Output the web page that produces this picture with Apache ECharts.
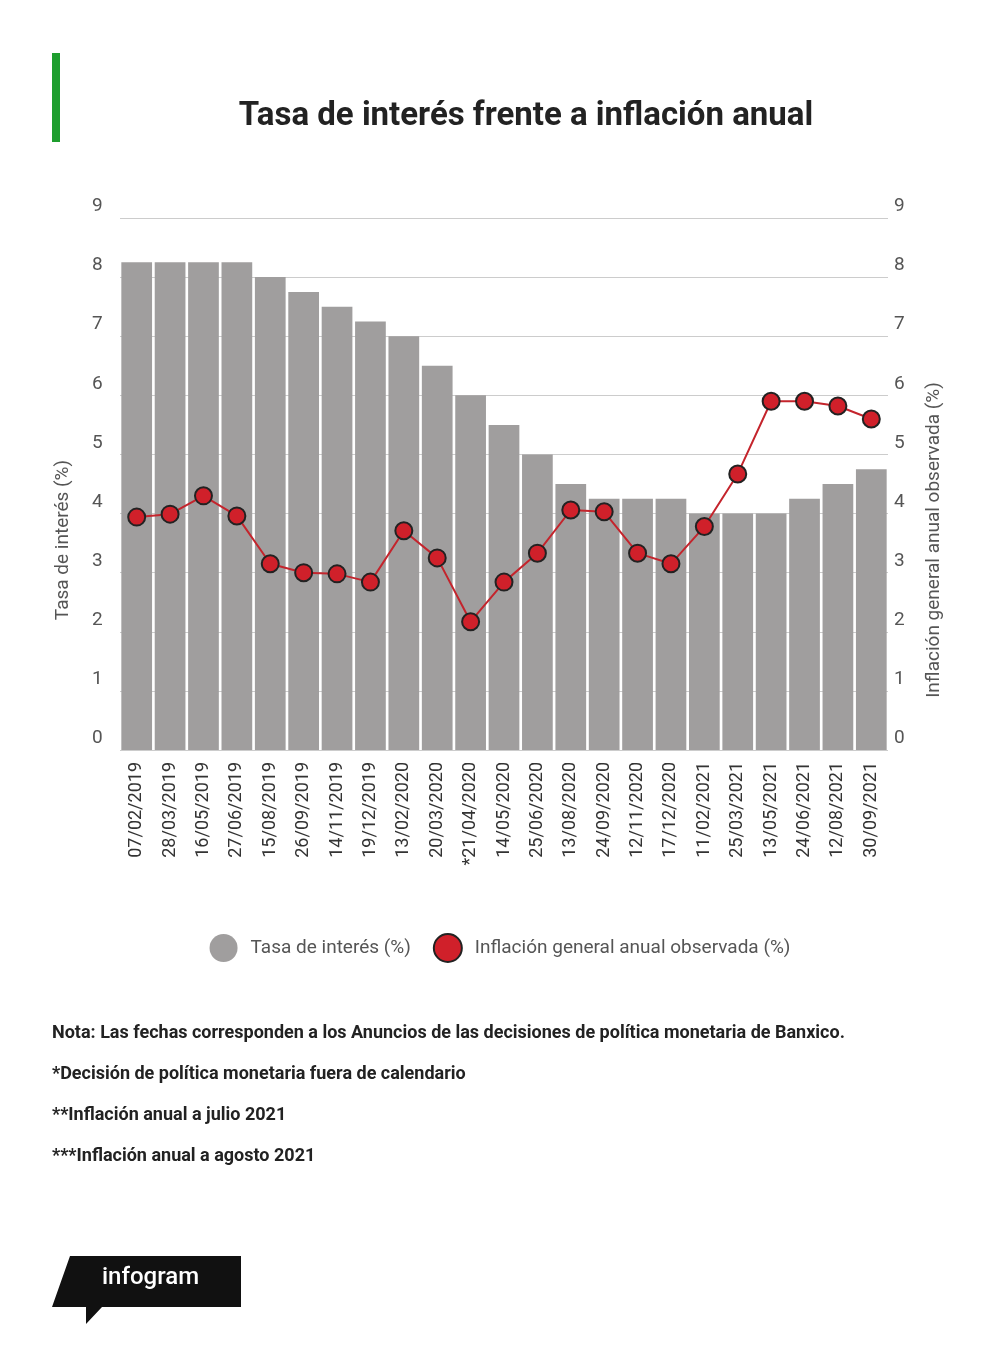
<!DOCTYPE html>
<html><head><meta charset="utf-8">
<script src="https://cdn.jsdelivr.net/npm/echarts@6/dist/echarts.min.js"></script>
<style>html,body{margin:0;padding:0;background:#fff}#c{width:1000px;height:1351px}</style>
</head><body><div id="c"></div>
<script>
const categories=["07/02/2019","28/03/2019","16/05/2019","27/06/2019","15/08/2019","26/09/2019","14/11/2019","19/12/2019","13/02/2020","20/03/2020","*21/04/2020","14/05/2020","25/06/2020","13/08/2020","24/09/2020","12/11/2020","17/12/2020","11/02/2021","25/03/2021","13/05/2021","24/06/2021","12/08/2021","30/09/2021"];
const tasa=[8.25,8.25,8.25,8.25,8.0,7.75,7.5,7.25,7.0,6.5,6.0,5.5,5.0,4.5,4.25,4.25,4.25,4.0,4.0,4.0,4.25,4.5,4.75];
const inflacion=[3.94,3.99,4.30,3.96,3.15,3.0,2.98,2.84,3.71,3.25,2.17,2.84,3.33,4.06,4.03,3.33,3.15,3.78,4.67,5.9,5.9,5.82,5.6];
const notes=["Nota: Las fechas corresponden a los Anuncios de las decisiones de política monetaria de Banxico.","*Decisión de política monetaria fuera de calendario","**Inflación anual a julio 2021","***Inflación anual a agosto 2021"];
const F="Roboto";
const chart=echarts.init(document.getElementById('c'));
const yax=(pos)=>({type:'value',min:0,max:9,interval:1,position:pos,
 axisLabel:{fontFamily:F,fontSize:19,color:'#555',margin:pos==='left'?28:6,verticalAlign:'bottom',padding:[0,0,2,0],align:'left'},
 splitLine:{show:pos==='left',lineStyle:{color:'#ccc'}},axisLine:{show:false},axisTick:{show:false}});
chart.setOption({
 title:{text:'Tasa de interés frente a inflación anual',left:521,top:95,textAlign:'center',textStyle:{fontFamily:F,fontSize:33,fontWeight:'bold',color:'#222'}},
 grid:{left:120,right:112,top:218,bottom:601},
 legend:{top:928,left:'center',itemGap:22,icon:'circle',itemWidth:28,itemHeight:28,textStyle:{fontFamily:F,fontSize:19,color:'#555',padding:[0,0,0,8]},data:['Tasa de interés (%)','Inflación general anual observada (%)']},
 xAxis:{type:'category',data:categories,axisLine:{show:false},axisTick:{show:false},axisLabel:{rotate:90,interval:0,fontFamily:F,fontSize:18,color:'#333',margin:12}},
 yAxis:[yax('left'),yax('right')],
 series:[
  {name:'Tasa de interés (%)',type:'bar',data:tasa,barCategoryGap:'8%',itemStyle:{color:'#a09e9e'}},
  {name:'Inflación general anual observada (%)',type:'line',yAxisIndex:1,data:inflacion,symbol:'circle',symbolSize:17,lineStyle:{color:'#c4242c',width:2},itemStyle:{color:'#d0202a',borderColor:'#222',borderWidth:2}}
 ],
 graphic:[
  {type:'rect',shape:{x:52,y:53,width:8,height:89},style:{fill:'#1e9e2e'}},
  {type:'text',x:63,y:540,rotation:Math.PI/2,style:{text:'Tasa de interés (%)',font:'19px Roboto',fill:'#555',align:'center',verticalAlign:'middle'}},
  {type:'text',x:934,y:540,rotation:Math.PI/2,style:{text:'Inflación general anual observada (%)',font:'19px Roboto',fill:'#555',align:'center',verticalAlign:'middle'}},
  ...notes.map((t,i)=>({type:'text',left:52,top:1024+i*41,style:{text:t,font:'bold 18px Roboto',fill:'#222'}})),
  {type:'polygon',shape:{points:[[70,1256],[241,1256],[241,1307],[102,1307],[86,1324],[86,1307],[52,1307]]},style:{fill:'#111'}},
  {type:'text',left:102,top:1266,style:{text:'infogram',font:'500 24px Roboto',fill:'#fff'}}
 ]
});
</script></body></html>
